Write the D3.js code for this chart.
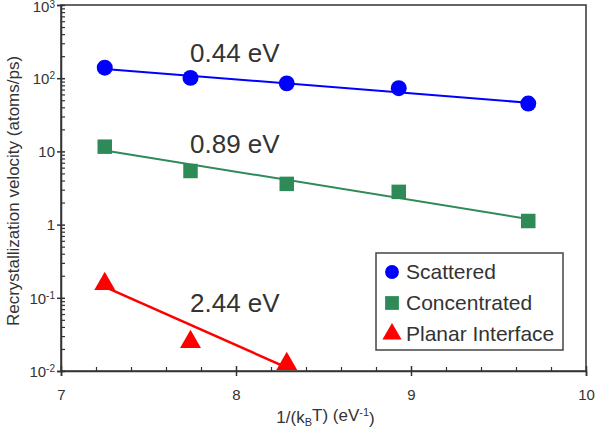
<!DOCTYPE html>
<html>
<head>
<meta charset="utf-8">
<script src="https://cdn.jsdelivr.net/npm/d3@7"></script>
<style>
    body { margin: 0; background: #fff; }
    text { font-family: "Liberation Sans", Arial, sans-serif; fill: #333; }
</style>
</head>
<body>
<div id="chart"></div>
<script>
    // 1/(kB T) for 1600, 1500, 1400, 1300, 1200 K
    var invKT = [7.25, 7.74, 8.29, 8.93, 9.67];
    var scatteredValues = [139, 101, 85, 73, 45];
    var concentratedValues = [11.6, 5.4, 3.6, 2.8, 1.12];
    var planarValues = [0.155, 0.025, 0.0125];

    var seriesNames = ["Scattered", "Concentrated", "Planar Interface"];
    var seriesColors = ["#0000ff", "#2e8b57", "#ff0000"];

    // Arrhenius fits: activation energy (eV), value at the first point, x range
    var activationEnergies = [0.44, 0.89, 2.44];
    var fitStartValues = [134, 10.3, 0.141];
    var fitRanges = [[7.25, 9.67], [7.25, 9.67], [7.25, 8.29]];

    var xTicks = [7, 8, 9, 10];
    var yTicks = [0.01, 0.1, 1, 10, 100, 1000];
    var yTickLabels = [["10", "-2"], ["10", "-1"], ["1", ""], ["10", ""], ["10", "2"], ["10", "3"]];

    var width = 599,
        height = 430,
        margin = {top: 5, right: 13, bottom: 59, left: 61};

    var svg = d3.select("#chart").append("svg")
        .attr("width", width)
        .attr("height", height);

    var x = d3.scaleLinear().domain([7, 10]).range([margin.left, width - margin.right]);
    var y = d3.scaleLog().domain([0.01, 1000]).range([height - margin.bottom, margin.top]);

    var series = [scatteredValues, concentratedValues, planarValues].map(function (vals, i) {
        return {
            name: seriesNames[i],
            color: seriesColors[i],
            points: vals.map(function (v, j) { return {x: invKT[j], y: v}; }),
            ea: activationEnergies[i],
            v0: fitStartValues[i],
            range: fitRanges[i]
        };
    });

    //frame
    svg.append("rect")
        .attr("x", margin.left)
        .attr("y", margin.top)
        .attr("width", width - margin.left - margin.right)
        .attr("height", height - margin.top - margin.bottom)
        .attr("fill", "none")
        .attr("stroke", "#333")
        .attr("stroke-width", 1.5);

    //x axis: minor ticks inward, major ticks crossing
    var xMinor = d3.range(7.2, 10, 0.2).filter(function (d) { return Math.abs(d - Math.round(d)) > 0.01; });
    svg.append("g")
        .attr("transform", "translate(0," + (height - margin.bottom) + ")")
        .call(d3.axisBottom(x).tickValues(xMinor).tickSize(-4).tickFormat(""))
        .call(function (g) { g.select(".domain").remove(); g.selectAll("line").attr("stroke", "#333").attr("stroke-width", 1.2); });

    var xAxis = svg.append("g")
        .attr("transform", "translate(0," + (height - margin.bottom) + ")")
        .call(d3.axisBottom(x).tickValues(xTicks).tickSize(5).tickPadding(13).tickFormat(d3.format("d")));
    xAxis.select(".domain").attr("stroke", "#333").attr("stroke-width", 1.5);
    xAxis.selectAll(".tick line").attr("y1", -5).attr("stroke", "#333").attr("stroke-width", 1.5);
    xAxis.selectAll(".tick text").style("font-size", "15px").attr("fill", "#333");

    //y axis
    var yMinor = y.ticks().filter(function (d) { return yTicks.indexOf(d) < 0; });
    svg.append("g")
        .attr("transform", "translate(" + margin.left + ",0)")
        .call(d3.axisLeft(y).tickValues(yMinor).tickSize(-4).tickFormat(""))
        .call(function (g) { g.select(".domain").remove(); g.selectAll("line").attr("stroke", "#333").attr("stroke-width", 1.2); });

    var yAxis = svg.append("g")
        .attr("transform", "translate(" + margin.left + ",0)")
        .call(d3.axisLeft(y).tickValues(yTicks).tickSize(4).tickPadding(4).tickFormat(""));
    yAxis.select(".domain").attr("stroke", "#333").attr("stroke-width", 1.5);
    yAxis.selectAll(".tick line").attr("x1", 4).attr("stroke", "#333").attr("stroke-width", 1.5);
    yAxis.selectAll(".tick").each(function (d, i) {
        var t = d3.select(this).append("text")
            .attr("x", -6)
            .attr("dy", i === yTicks.length - 1 ? "0.45em" : "0.35em")
            .attr("text-anchor", "end")
            .style("font-size", "15px");
        t.append("tspan").text(yTickLabels[i][0]);
        if (yTickLabels[i][1] !== "")
            t.append("tspan").attr("dy", "-0.45em").style("font-size", "10px").text(yTickLabels[i][1]);
    });

    //axis titles
    var xTitle = svg.append("text")
        .attr("x", (margin.left + width - margin.right) / 2 + 2)
        .attr("y", 423)
        .attr("text-anchor", "middle")
        .style("font-size", "17px");
    xTitle.append("tspan").text("1/(k");
    xTitle.append("tspan").attr("dy", "0.3em").style("font-size", "11px").text("B");
    xTitle.append("tspan").attr("dy", "-0.3em").text("T) (eV");
    xTitle.append("tspan").attr("dy", "-0.45em").style("font-size", "11px").text("-1");
    xTitle.append("tspan").attr("dy", "0.45em").text(")");

    svg.append("text")
        .attr("transform", "translate(19,191) rotate(-90)")
        .attr("text-anchor", "middle")
        .style("font-size", "17px")
        .text("Recrystallization velocity (atoms/ps)");

    //fit lines
    series.forEach(function (s) {
        var x0 = s.range[0];
        var fit = s.range.map(function (xv) {
            return {x: xv, y: s.v0 * Math.exp(-s.ea * (xv - x0))};
        });
        svg.append("path")
            .datum(fit)
            .attr("fill", "none")
            .attr("stroke", s.color)
            .attr("stroke-width", s.name === "Planar Interface" ? 2.5 : 2)
            .attr("d", d3.line().x(function (d) { return x(d.x); }).y(function (d) { return y(d.y); }));
    });

    //markers
    var symbols = [d3.symbolCircle, d3.symbolSquare, d3.symbolTriangle];
    var symbolSizes = [200, 210, 190];
    series.forEach(function (s, i) {
        svg.append("g").selectAll("path")
            .data(s.points)
            .enter()
            .append("path")
            .attr("transform", function (d) { return "translate(" + x(d.x) + "," + y(d.y) + ")"; })
            .attr("d", d3.symbol().type(symbols[i]).size(symbolSizes[i]))
            .attr("fill", s.color);
    });

    //activation energy labels
    var labelPos = [[190, 62], [190, 153], [190, 312]];
    series.forEach(function (s, i) {
        svg.append("text")
            .attr("x", labelPos[i][0])
            .attr("y", labelPos[i][1])
            .style("font-size", "26px")
            .attr("fill", "#222")
            .text(s.ea.toFixed(2) + " eV");
    });

    //legend
    var legend = svg.append("g").attr("transform", "translate(376,253)");
    legend.append("rect")
        .attr("width", 187)
        .attr("height", 97)
        .attr("fill", "#fff")
        .attr("stroke", "#444")
        .attr("stroke-width", 1.5);
    var items = legend.selectAll(".legend-item")
        .data(series)
        .enter()
        .append("g")
        .attr("class", "legend-item")
        .attr("transform", function (d, i) { return "translate(16," + (19 + i * 31) + ")"; });
    items.append("path")
        .attr("d", function (d, i) { return d3.symbol().type(symbols[i]).size([150, 190, 160][i])(); })
        .attr("fill", function (d) { return d.color; });
    items.append("text")
        .attr("x", 14)
        .attr("dy", "0.35em")
        .style("font-size", "21px")
        .text(function (d) { return d.name; });
</script>
</body>
</html>
